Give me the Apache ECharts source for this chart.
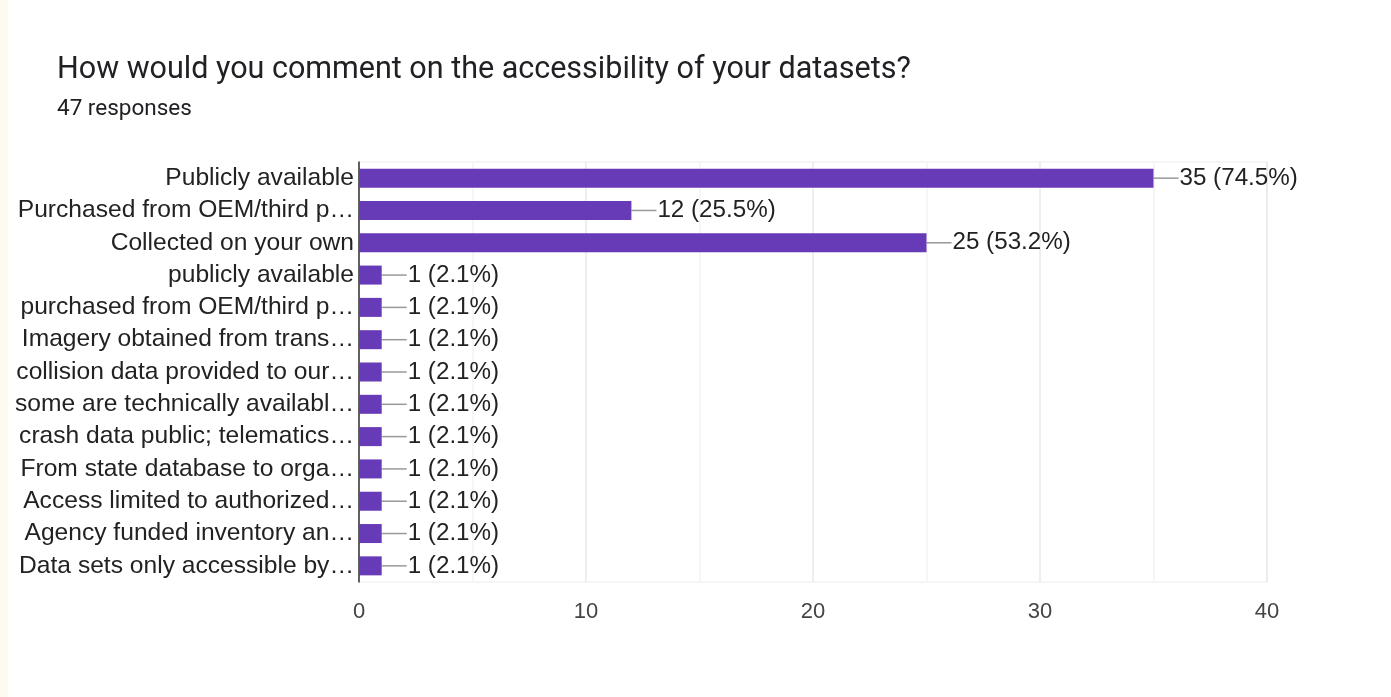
<!DOCTYPE html>
<html>
<head>
<meta charset="utf-8">
<title>Accessibility of datasets</title>
<script src="https://cdn.jsdelivr.net/npm/echarts@6/dist/echarts.min.js"></script>
<style>
  html, body { margin: 0; padding: 0; background: #ffffff; }
  body { width: 1391px; height: 697px; position: relative; overflow: hidden; }
  #edge { position: absolute; left: 0; top: 0; width: 8px; height: 697px; background: #fefaf0; }
  #chart { position: absolute; left: 0; top: 0; width: 1391px; height: 697px; }
</style>
</head>
<body>
<div id="chart"></div>
<div id="edge"></div>
<script>
// Survey answers (labels shortened as displayed) and response counts
const categories = [
  'Publicly available',
  'Purchased from OEM/third p…',
  'Collected on your own',
  'publicly available',
  'purchased from OEM/third p…',
  'Imagery obtained from trans…',
  'collision data provided to our…',
  'some are technically availabl…',
  'crash data public; telematics…',
  'From state database to orga…',
  'Access limited to authorized…',
  'Agency funded inventory an…',
  'Data sets only accessible by…'
];
const counts = [35, 12, 25, 1, 1, 1, 1, 1, 1, 1, 1, 1, 1];
const totalResponses = 47;
const xTicks = [0, 10, 20, 30, 40];

const titleText = 'How would you comment on the accessibility of your datasets?';
const subtitleText = totalResponses + ' responses';

const PURPLE = '#673ab7';
const LABEL_FONT = '"Liberation Sans", Arial, Helvetica, sans-serif';
const CONNECTOR = 25;

const chart = echarts.init(document.getElementById('chart'), null, { renderer: 'canvas' });

const pct = v => (Math.round(v / totalResponses * 1000) / 10).toFixed(1);

chart.setOption({
  animation: false,
  backgroundColor: '#ffffff',
  title: {
    text: titleText,
    subtext: subtitleText,
    left: 52,
    top: 50,
    itemGap: 12,
    textStyle: { fontFamily: 'Roboto, sans-serif', fontSize: 30.5, fontWeight: 'normal', color: '#202124' },
    subtextStyle: { fontFamily: 'Roboto, sans-serif', fontSize: 22.5, color: '#202124' }
  },
  grid: {
    left: 359, right: 124, top: 162, bottom: 115,
    show: true, borderColor: '#ebebeb', borderWidth: 1,
    containLabel: false
  },
  xAxis: {
    type: 'value',
    min: xTicks[0],
    max: xTicks[xTicks.length - 1],
    interval: 10,
    axisLine: { show: false },
    axisTick: { show: false },
    axisLabel: { fontFamily: LABEL_FONT, fontSize: 22, color: '#444444', margin: 19 },
    splitLine: { show: true, lineStyle: { color: '#e8e8e8', width: 1.5 } },
    minorTick: { show: false, splitNumber: 2 },
    minorSplitLine: { show: true, lineStyle: { color: '#f4f4f4', width: 1.5 } }
  },
  yAxis: {
    type: 'category',
    data: categories,
    inverse: true,
    axisLine: { show: true, lineStyle: { color: '#333333', width: 1.5 } },
    axisTick: { show: false },
    splitLine: { show: false },
    axisLabel: { interval: 0, fontFamily: LABEL_FONT, fontSize: 24.6, color: '#222222', margin: 5 }
  },
  series: [
    {
      type: 'bar',
      data: counts,
      barWidth: 19,
      itemStyle: { color: PURPLE },
      label: {
        show: true,
        position: 'right',
        distance: CONNECTOR + 1,
        fontFamily: LABEL_FONT,
        fontSize: 24.2,
        color: '#222222',
        formatter: p => p.value + ' (' + pct(p.value) + '%)'
      },
      z: 3
    },
    {
      // short grey leader from each bar end to its value label
      type: 'custom',
      data: counts.map((v, i) => [v, i]),
      encode: { x: 0, y: 1 },
      silent: true,
      z: 2,
      renderItem: (params, api) => {
        const p = api.coord([api.value(0), api.value(1)]);
        return {
          type: 'line',
          shape: { x1: p[0], y1: p[1], x2: p[0] + CONNECTOR, y2: p[1] },
          style: { stroke: '#999999', lineWidth: 1.5 }
        };
      }
    }
  ]
});
</script>
</body>
</html>
